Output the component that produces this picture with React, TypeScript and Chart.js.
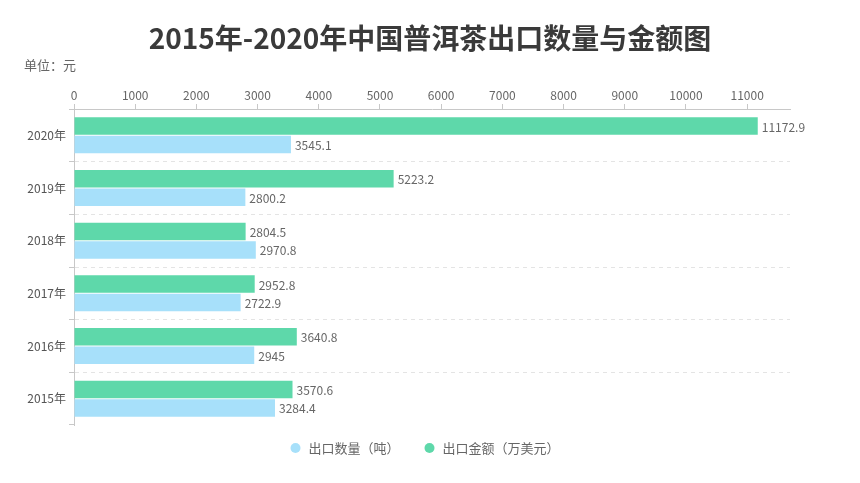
import React, { useEffect, useRef } from 'react';
import { Chart, registerables } from 'chart.js';

Chart.register(...registerables);

const categories = ['2020年', '2019年', '2018年', '2017年', '2016年', '2015年'];
const amountValues = [11172.9, 5223.2, 2804.5, 2952.8, 3640.8, 3570.6];
const quantityValues = [3545.1, 2800.2, 2970.8, 2722.9, 2945, 3284.4];
const xTickValues = [0, 1000, 2000, 3000, 4000, 5000, 6000, 7000, 8000, 9000, 10000, 11000];
const amountName = '出口金额（万美元）';
const quantityName = '出口数量（吨）';
const titleText = '2015年-2020年中国普洱茶出口数量与金额图';
const unitText = '单位：元';

const FONT = '"Noto Sans CJK SC", "Noto Sans", sans-serif';
const GREEN = '#5ed8aa';
const BLUE = '#a7e0fa';
const TEXT = '#666666';

const overlayPlugin = {
  id: 'overlay',
  afterDatasetsDraw(chart: any) {
    const ctx = chart.ctx;
    ctx.save();
    ctx.font = `12px ${FONT}`;
    ctx.fillStyle = TEXT;
    ctx.textAlign = 'left';
    ctx.textBaseline = 'middle';
    chart.data.datasets.forEach((ds: any, di: number) => {
      const meta = chart.getDatasetMeta(di);
      meta.data.forEach((bar: any, i: number) => {
        const v = ds.data[i];
        ctx.fillText(String(v), bar.x + 4, bar.y + 1);
      });
    });
    ctx.restore();
  },
  afterDraw(chart: any) {
    const ctx = chart.ctx;
    ctx.save();
    // title
    ctx.font = `bold 28px ${FONT}`;
    ctx.fillStyle = '#3a3a3a';
    ctx.textAlign = 'center';
    ctx.textBaseline = 'middle';
    ctx.fillText(titleText, 430, 38);
    // unit
    ctx.font = `13px ${FONT}`;
    ctx.fillStyle = TEXT;
    ctx.textAlign = 'left';
    ctx.fillText(unitText, 24, 65);
    // legend
    const items = [
      { name: quantityName, color: BLUE },
      { name: amountName, color: GREEN },
    ];
    ctx.font = `13px ${FONT}`;
    const r = 5;
    const gapCircleText = 8;
    const gapItems = 25;
    const widths = items.map((it) => ctx.measureText(it.name).width);
    const total = widths.reduce((a, w) => a + w + 2 * r + gapCircleText, 0) + gapItems * (items.length - 1);
    let x = 425 - total / 2;
    const y = 448;
    items.forEach((it, i) => {
      ctx.beginPath();
      ctx.arc(x + r, y, r, 0, Math.PI * 2);
      ctx.fillStyle = it.color;
      ctx.fill();
      ctx.fillStyle = TEXT;
      ctx.fillText(it.name, x + 2 * r + gapCircleText, y);
      x += 2 * r + gapCircleText + widths[i] + gapItems;
    });
    ctx.restore();
  },
};

export default function App() {
  const ref = useRef<HTMLCanvasElement | null>(null);

  useEffect(() => {
    document.body.style.margin = '0';
    if (!ref.current) return;
    const chart = new Chart(ref.current, {
      type: 'bar',
      data: {
        labels: categories,
        datasets: [
          {
            label: amountName,
            data: amountValues,
            backgroundColor: GREEN,
            categoryPercentage: 0.7,
            barPercentage: 0.95,
          },
          {
            label: quantityName,
            data: quantityValues,
            backgroundColor: BLUE,
            categoryPercentage: 0.7,
            barPercentage: 0.95,
          },
        ],
      },
      options: {
        indexAxis: 'y',
        responsive: false,
        animation: false,
        layout: { padding: { top: 79, right: 70, bottom: 58, left: 0 } },
        plugins: {
          legend: { display: false },
          title: { display: false },
          tooltip: { enabled: false },
        },
        scales: {
          x: {
            position: 'top',
            min: 0,
            max: 11700,
            afterBuildTicks: (scale: any) => {
              scale.ticks = xTickValues.map((v) => ({ value: v }));
            },
            afterFit: (scale: any) => {
              scale.height = 30;
            },
            grid: {
              drawOnChartArea: false,
              drawTicks: true,
              tickLength: 5,
              color: '#c8c8c8',
            },
            border: { display: true, color: '#c8c8c8', width: 1 },
            ticks: {
              padding: 1,
              color: TEXT,
              font: { size: 12, family: FONT },
              maxRotation: 0,
              autoSkip: false,
              callback: (v: any) => String(v),
            },
          },
          y: {
            afterFit: (scale: any) => {
              scale.width = 74;
            },
            grid: {
              offset: true,
              drawOnChartArea: true,
              drawTicks: true,
              tickLength: 5,
              color: (c: any) =>
                c.index >= 1 && c.index <= 5 ? '#e4e4e4' : 'rgba(0,0,0,0)',
              tickColor: '#c8c8c8',
            },
            border: { display: true, color: '#c8c8c8', width: 1, dash: [4, 4] },
            ticks: {
              padding: 3,
              color: '#555555',
              font: { size: 12, family: FONT },
            },
          },
        },
      },
      plugins: [overlayPlugin],
    } as any);
    return () => chart.destroy();
  }, []);

  return (
    <div style={{ width: 860, height: 483 }}>
      <canvas ref={ref} width={860} height={483} />
    </div>
  );
}
